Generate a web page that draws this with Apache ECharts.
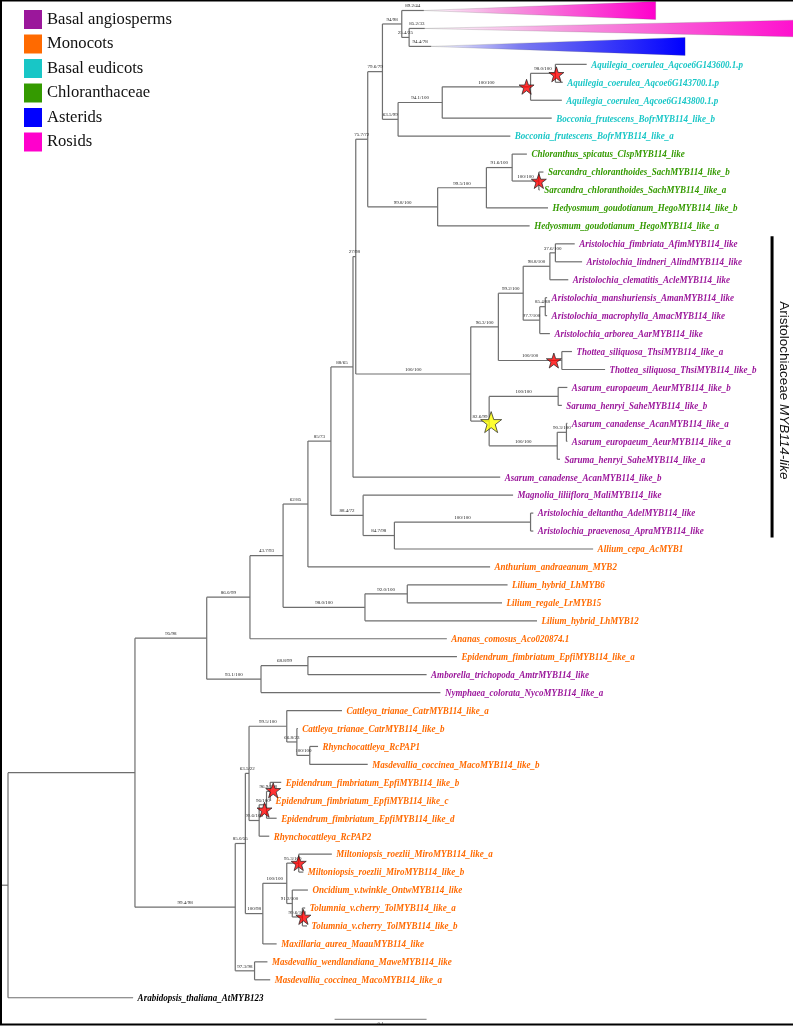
<!DOCTYPE html>
<html><head><meta charset="utf-8">
<script src="https://cdn.jsdelivr.net/npm/echarts@6/dist/echarts.min.js"></script>
<style>html,body{margin:0;padding:0;background:#fff}#c{width:793px;height:1026px}</style>
</head><body><div id="c"></div>
<script>
// ---------- DATA ----------
const groups = ['Basal angiosperms','Monocots','Basal eudicots','Chloranthaceae','Asterids','Rosids','Outgroup'];
const groupColors = ['#9b179b','#ff6a00','#18c6c6','#349a00','#0000ff','#ff00cc','#000000'];

const leafNames = [
 'Rosids (collapsed)','Rosids (collapsed)','Asterids (collapsed)',
 'Aquilegia_coerulea_Aqcoe6G143600.1.p','Aquilegia_coerulea_Aqcoe6G143700.1.p','Aquilegia_coerulea_Aqcoe6G143800.1.p',
 'Bocconia_frutescens_BofrMYB114_like_b','Bocconia_frutescens_BofrMYB114_like_a',
 'Chloranthus_spicatus_ClspMYB114_like','Sarcandra_chloranthoides_SachMYB114_like_b','Sarcandra_chloranthoides_SachMYB114_like_a',
 'Hedyosmum_goudotianum_HegoMYB114_like_b','Hedyosmum_goudotianum_HegoMYB114_like_a',
 'Aristolochia_fimbriata_AfimMYB114_like','Aristolochia_lindneri_AlindMYB114_like','Aristolochia_clematitis_AcleMYB114_like',
 'Aristolochia_manshuriensis_AmanMYB114_like','Aristolochia_macrophylla_AmacMYB114_like','Aristolochia_arborea_AarMYB114_like',
 'Thottea_siliquosa_ThsiMYB114_like_a','Thottea_siliquosa_ThsiMYB114_like_b',
 'Asarum_europaeum_AeurMYB114_like_b','Saruma_henryi_SaheMYB114_like_b','Asarum_canadense_AcanMYB114_like_a',
 'Asarum_europaeum_AeurMYB114_like_a','Saruma_henryi_SaheMYB114_like_a','Asarum_canadense_AcanMYB114_like_b',
 'Magnolia_liliiflora_MaliMYB114_like','Aristolochia_deltantha_AdelMYB114_like','Aristolochia_praevenosa_ApraMYB114_like',
 'Allium_cepa_AcMYB1','Anthurium_andraeanum_MYB2','Lilium_hybrid_LhMYB6','Lilium_regale_LrMYB15','Lilium_hybrid_LhMYB12',
 'Ananas_comosus_Aco020874.1','Epidendrum_fimbriatum_EpfiMYB114_like_a','Amborella_trichopoda_AmtrMYB114_like',
 'Nymphaea_colorata_NycoMYB114_like_a','Cattleya_trianae_CatrMYB114_like_a','Cattleya_trianae_CatrMYB114_like_b',
 'Rhynchocattleya_RcPAP1','Masdevallia_coccinea_MacoMYB114_like_b','Epidendrum_fimbriatum_EpfiMYB114_like_b',
 'Epidendrum_fimbriatum_EpfiMYB114_like_c','Epidendrum_fimbriatum_EpfiMYB114_like_d','Rhynchocattleya_RcPAP2',
 'Miltoniopsis_roezlii_MiroMYB114_like_a','Miltoniopsis_roezlii_MiroMYB114_like_b','Oncidium_v.twinkle_OntwMYB114_like',
 'Tolumnia_v.cherry_TolMYB114_like_a','Tolumnia_v.cherry_TolMYB114_like_b','Maxillaria_aurea_MaauMYB114_like',
 'Masdevallia_wendlandiana_MaweMYB114_like','Masdevallia_coccinea_MacoMYB114_like_a','Arabidopsis_thaliana_AtMYB123'
];
const leafGroup = [5,5,4, 2,2,2,2,2, 3,3,3,3,3, 0,0,0,0,0,0,0,0,0,0,0,0,0,0,0,0,0,
 1,1,1,1,1,1,1, 0,0, 1,1,1,1,1,1,1,1,1,1,1,1,1,1,1,1, 6];
// tip depth (substitutions/site); for collapsed clades: depth of triangle apex
const leafDepth = [0.452,0.453,0.460, 0.629,0.603,0.602,0.591,0.546, 0.564,0.582,0.578,0.587,0.567,
 0.616,0.624,0.609,0.586,0.586,0.589,0.613,0.649,0.608,0.602,0.608,0.608,0.600,0.535,0.549,0.571,0.571,
 0.636,0.524,0.543,0.537,0.575,0.477,0.488,0.455,0.470,0.363,0.315,0.337,0.391,0.297,0.286,0.292,0.284,
 0.352,0.321,0.326,0.323,0.325,0.292,0.282,0.285,0.136];
// collapsed clades: leaf index, depth of deepest tip
const collapsedLeaf = [0, 1, 2];
const collapsedFar = [0.704, 0.885, 0.736];
const leafSupport = {0:'89.2/44', 1:'85.2/33', 2:'94.4/78'};

// internal nodes: [id, childA, childB, depth, support]
const clades = [
 ['R','A',55,0.000,''],
 ['A','B','O1',0.138,''],
 ['B','C','D',0.216,'95/98'],
 ['C','E',35,0.263,'86.0/99'],
 ['E','N62','NLil',0.299,'43.7/93'],
 ['N62','N85',31,0.326,'62/85'],
 ['N85','N88','N88.4',0.351,'85/73'],
 ['N88','N27',26,0.375,'88/65'],
 ['N27','N75.7','NAri',0.378,'27/98'],
 ['N75.7','N79.6','N99.8',0.391,'75.7/72'],
 ['N79.6','N94','N63.5',0.407,'79.6/79'],
 ['N94',0,'N25.4',0.428,'94/98'],
 ['N25.4',1,2,0.436,'25.4/25'],
 ['N63.5','N94.1',7,0.424,'63.5/99'],
 ['N94.1','NAq',6,0.472,'94.1/100'],
 ['NAq','N98.0',5,0.568,'100/100'],
 ['N98.0',3,4,0.595,'98.0/100'],
 ['N99.8','N99.5',12,0.467,'99.8/100'],
 ['N99.5','N91.6',11,0.520,'99.5/100'],
 ['N91.6',8,'NSa',0.548,'91.6/100'],
 ['NSa',9,10,0.577,'100/100'],
 ['NAri','N96.3','N82.6',0.503,'100/100'],
 ['N96.3','N99.2','NTh',0.533,'96.3/100'],
 ['N99.2','N98.8','N97.7',0.560,'99.2/100'],
 ['N98.8','N37.6',15,0.589,'98.8/100'],
 ['N37.6',13,14,0.595,'37.6/100'],
 ['N97.7','N85.4',18,0.578,'97.7/100'],
 ['N85.4',16,17,0.584,'85.4/88'],
 ['NTh',19,20,0.602,'100/100'],
 ['N82.6','NAsU','NAsL',0.523,'82.6/99'],
 ['NAsU',21,22,0.598,'100/100'],
 ['NAsL','N90.3',25,0.597,'100/100'],
 ['N90.3',23,24,0.607,'90.3/100'],
 ['N88.4',27,'N84.7',0.386,'88.4/72'],
 ['N84.7','NAd',30,0.420,'84.7/98'],
 ['NAd',28,29,0.568,'100/100'],
 ['NLil','NL2',34,0.388,'98.0/100'],
 ['NL2',32,33,0.434,'92.0/100'],
 ['D','N68.8',38,0.275,'93.1/100'],
 ['N68.8',36,37,0.326,'68.8/99'],
 ['O1','O2','O3',0.247,'99.4/98'],
 ['O2','O4','O5',0.258,'85.0/55'],
 ['O3',53,54,0.268,'97.3/98'],
 ['O4','O10','O11',0.262,'63.5/22'],
 ['O10',39,'O12',0.303,'99.5/100'],
 ['O12',40,'O13',0.314,'66.8/23'],
 ['O13',41,42,0.328,'100/100'],
 ['O11','O14',46,0.273,'99.6/100'],
 ['O14','O15',45,0.281,'96/100'],
 ['O15',43,44,0.285,'96.9/100'],
 ['O5','O6',52,0.277,'100/98'],
 ['O6','O7','O8',0.303,'100/100'],
 ['O7',47,48,0.316,'95.3/100'],
 ['O8',49,'O9',0.309,'91.2/100'],
 ['O9',50,51,0.320,'99.6/100']
];
const rootStub = -0.0087;
// highlighted duplication nodes: [node, colour, size, dx, dy]
const starNodes = [
 ['NAq','#ff0000',15,-4,0],['N98.0','#ff0000',15,1,1],['NSa','#ff0000',15,0,0],
 ['NTh','#ff0000',15,-8,0],['N82.6','#ffff00',21,2,1],['O15','#ff0000',15,3,-1],
 ['O14','#ff0000',15,-2,5],['O7','#ff0000',15,0,0],['O9','#ff0000',15,1,0]
];
// clade bracket
const cladeBar = {from: 13, to: 29, depth: 0.8305, label: ['Aristolochiaceae ', 'MYB114-like']};
const scaleBar = {start: 0.355, length: 0.1, row: 56.2, label: '0.1'};

// ---------- LAYOUT ----------
const cladeMap = {}; clades.forEach(c => cladeMap[c[0]] = c);
const branches = [];
function layout(key, parentD) {
  if (typeof key === 'number') {
    branches.push({d: leafDepth[key], y: key, p: parentD, leaf: true, s: leafSupport[key] || ''});
    return key;
  }
  const c = cladeMap[key];
  const ya = layout(c[1], c[3]);
  const yb = layout(c[2], c[3]);
  const y = (ya + yb) / 2;
  const b = {id: key, d: c[3], y: y, p: parentD, top: Math.min(ya, yb), bot: Math.max(ya, yb), s: c[4]};
  branches.push(b);
  return y;
}
layout('R', rootStub);
const nodeById = {}; branches.forEach(b => { if (b.id) nodeById[b.id] = b; });

const BR = '#6e6e6e';
const LABEL_FONT = 'italic bold 11px "Liberation Serif", "DejaVu Serif", serif';
const SUP_FONT = '5px "Liberation Serif", serif';

const series = [];
series.push({
  type: 'custom', name: 'branches', silent: true, z: 2,
  data: branches.map(b => [b.d, b.y]),
  renderItem: function (params, api) {
    const b = branches[params.dataIndex];
    const p1 = api.coord([b.p, b.y]), p2 = api.coord([b.d, b.y]);
    const ch = [{type: 'line', shape: {x1: p1[0], y1: p1[1], x2: p2[0], y2: p2[1]},
      style: {stroke: BR, lineWidth: 1.2}}];
    if (!b.leaf) {
      const t = api.coord([b.d, b.top]), q = api.coord([b.d, b.bot]);
      ch.push({type: 'line', shape: {x1: t[0], y1: t[1], x2: q[0], y2: q[1]}, style: {stroke: BR, lineWidth: 1.2}});
    }
    if (b.s) {
      ch.push({type: 'text', x: (p1[0] + p2[0]) / 2, y: p1[1] - 2,
        style: {text: b.s, font: SUP_FONT, fill: '#222', align: 'center', verticalAlign: 'bottom'}});
    }
    return {type: 'group', children: ch};
  }
});

// one series per taxonomic group (labels + collapsed triangles)
groups.forEach((g, gi) => {
  const idx = [];
  leafGroup.forEach((lg, i) => { if (lg === gi) idx.push(i); });
  const col = groupColors[gi];
  series.push({
    type: 'custom', name: g, silent: true, z: 3,
    itemStyle: {color: col},
    data: idx.map(i => [leafDepth[i], i]),
    renderItem: function (params, api) {
      const i = idx[params.dataIndex];
      const ci = collapsedLeaf.indexOf(i);
      if (ci >= 0) {
        const a = api.coord([leafDepth[i], i]);
        const t = api.coord([collapsedFar[ci], i - 0.5]);
        const q = api.coord([collapsedFar[ci], i + 0.5]);
        return {type: 'polygon', shape: {points: [a, t, q]},
          style: {fill: new echarts.graphic.LinearGradient(0, 0, 1, 0,
            [{offset: 0, color: '#ffffff'}, {offset: 0.35, color: col === '#0000ff' ? '#7a7af0' : '#f59ade'}, {offset: 1, color: col}]),
            stroke: 'rgba(90,90,90,0.35)', lineWidth: 0.6}};
      }
      const p = api.coord([leafDepth[i], i]);
      return {type: 'text', x: p[0] + 4.5, y: p[1] + 0.5, scaleX: 0.82,
        style: {text: leafNames[i], font: LABEL_FONT, fill: col, align: 'left', verticalAlign: 'middle'}};
    }
  });
});

const starPath = 'path://M50,2 L61.8,36.2 L97.6,36.2 L68.6,57.6 L79.4,92 L50,71 L20.6,92 L31.4,57.6 L2.4,36.2 L38.2,36.2 Z';
series.push({
  type: 'scatter', name: 'stars', silent: true, z: 5,
  data: starNodes.map(s => {
    const n = nodeById[s[0]];
    return {value: [n.d, n.y], symbolSize: s[2], symbolOffset: [s[3], s[4]],
      itemStyle: {color: s[1], borderColor: '#222', borderWidth: 0.9}};
  }),
  symbol: starPath
});

series.push({
  type: 'custom', name: 'cladeBar', silent: true, z: 3,
  data: [[cladeBar.depth, cladeBar.from]],
  renderItem: function (params, api) {
    const t = api.coord([cladeBar.depth, cladeBar.from - 0.42]);
    const q = api.coord([cladeBar.depth, cladeBar.to + 0.36]);
    const m = api.coord([cladeBar.depth, (cladeBar.from + cladeBar.to) / 2]);
    return {type: 'group', children: [
      {type: 'line', shape: {x1: t[0], y1: t[1], x2: q[0], y2: q[1]}, style: {stroke: '#000', lineWidth: 3}},
      {type: 'text', x: m[0] + 12, y: m[1] + 3, rotation: -Math.PI / 2,
        style: {text: '{a|' + cladeBar.label[0] + '}{b|' + cladeBar.label[1] + '}',
          rich: {a: {fontFamily: 'Liberation Sans', fontSize: 13.5, fill: '#111', color: '#111'},
                 b: {fontFamily: 'Liberation Sans', fontSize: 13.5, fontStyle: 'italic', fill: '#111', color: '#111'}},
          align: 'center', verticalAlign: 'middle', fill: '#111'}}
    ]};
  }
});

series.push({
  type: 'custom', name: 'scaleBar', silent: true, z: 3,
  data: [[scaleBar.start, scaleBar.row]],
  renderItem: function (params, api) {
    const a = api.coord([scaleBar.start, scaleBar.row]);
    const b = api.coord([scaleBar.start + scaleBar.length, scaleBar.row]);
    return {type: 'group', children: [
      {type: 'line', shape: {x1: a[0], y1: a[1], x2: b[0], y2: b[1]}, style: {stroke: '#777', lineWidth: 1}},
      {type: 'text', x: (a[0] + b[0]) / 2, y: a[1] + 2,
        style: {text: scaleBar.label, font: '5px serif', fill: '#444', align: 'center', verticalAlign: 'top'}}
    ]};
  }
});

const chart = echarts.init(document.getElementById('c'), null, {renderer: 'canvas'});
chart.setOption({
  animation: false,
  backgroundColor: '#ffffff',
  grid: {left: 0, right: 0, top: 0, bottom: 0, containLabel: false},
  xAxis: {type: 'value', min: -0.008696, max: 0.853261, show: false},
  yAxis: {type: 'value', min: -0.585, max: 56.574, inverse: true, show: false},
  legend: {
    show: true, orient: 'vertical', left: 24, top: 10, padding: 0, icon: 'rect',
    itemWidth: 18, itemHeight: 19, itemGap: 5.5, selectedMode: false,
    data: groups.slice(0, 6),
    textStyle: {fontFamily: '"Liberation Serif", serif', fontSize: 16.6, color: '#111'}
  },
  graphic: [{type: 'rect', shape: {x: 1, y: 0.5, width: 820, height: 1024}, style: {fill: 'none', stroke: '#000', lineWidth: 2}, z: 100, silent: true}],
  series: series
});
</script></body></html>
